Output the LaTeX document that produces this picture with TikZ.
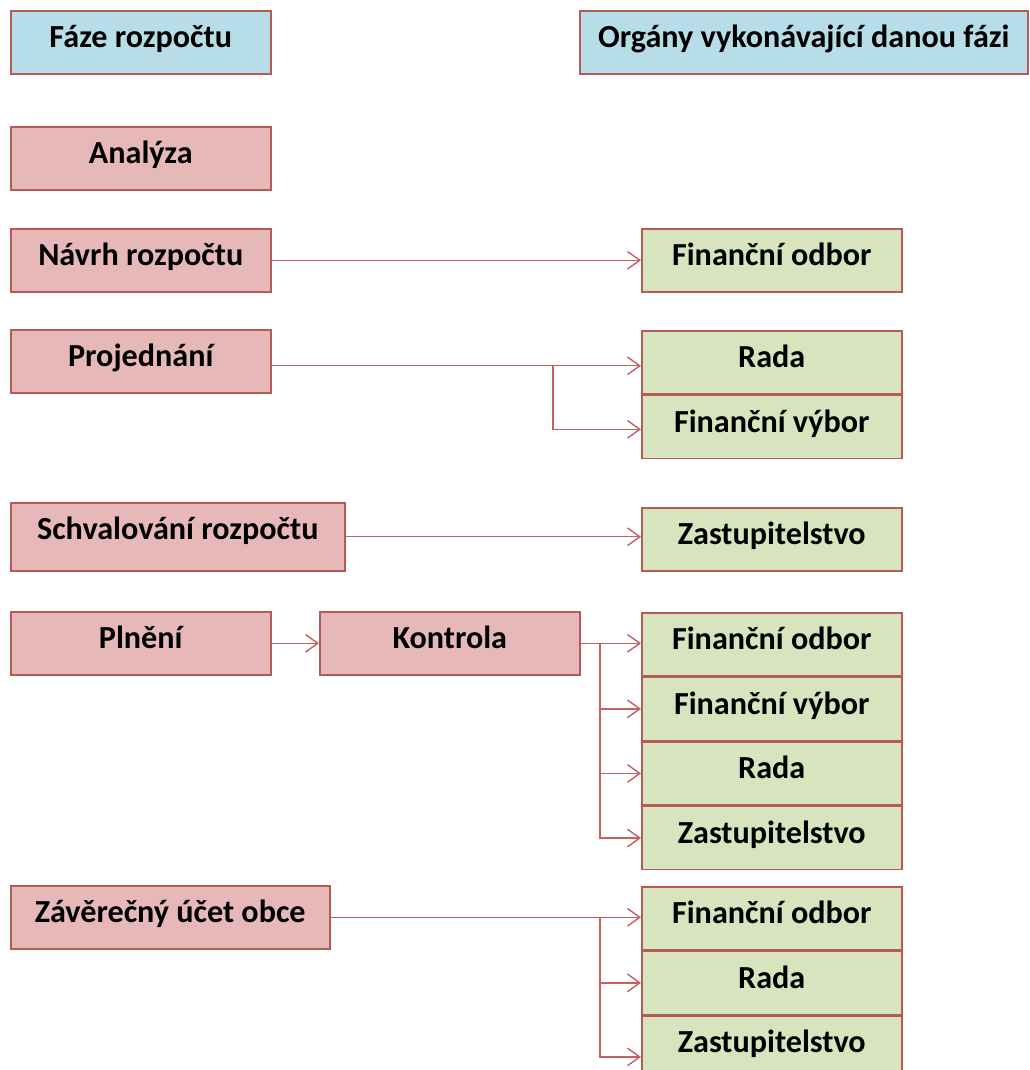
\documentclass[tikz,border=0pt]{standalone}
\usepackage{fontspec}
\setmainfont{Carlito}
\usetikzlibrary{positioning,arrows.meta}
\definecolor{boxline}{HTML}{B65A58}
\definecolor{linkred}{HTML}{C86060}
\definecolor{hdrblue}{HTML}{B7DDE8}
\definecolor{fazepink}{HTML}{E6B9B8}
\definecolor{organgreen}{HTML}{D7E4BD}
\begin{document}
\begin{tikzpicture}[x=0.02cm,y=-0.02cm,>={Straight Barb[length=7pt,width=10pt]},
    box/.style={draw=boxline,line width=0.9pt,anchor=north west,inner sep=0pt,
      minimum width=5.2cm,text height=0.74cm,text depth=0.52cm,
      font=\fontsize{18.3}{22}\selectfont\bfseries},
    hdr/.style={box,fill=hdrblue},
    faze/.style={box,fill=fazepink},
    organ/.style={box,fill=organgreen},
    link/.style={->,draw=linkred,line width=0.8pt}]
  \useasboundingbox (0,0) rectangle (1029,1070);
  % headers
  \node[hdr] (fazehdr) at (10,10) {Fáze rozpočtu};
  \node[hdr,minimum width=8.96cm] (orghdr) at (579,10) {Orgány vykonávající danou fázi};
  % phases
  \node[faze] (analyza) at (10,126) {Analýza};
  \node[faze] (navrh) at (10,228) {Návrh rozpočtu};
  \node[faze] (projed) at (10,329) {Projednání};
  \node[faze,minimum width=6.68cm,text depth=0.62cm] (schval) at (10,502) {Schvalování rozpočtu};
  \node[faze] (plneni) at (10,611) {Plnění};
  \node[faze] (kontrola) at (319,611) {Kontrola};
  \node[faze,minimum width=6.38cm] (zaver) at (10,885) {Závěrečný účet obce};
  % organs
  \node[organ] (odbor1) at (641,228) {Finanční odbor};
  \node[organ] (rada1) at (641,330) {Rada};
  \node[organ,below=0pt of rada1] (vybor1) {Finanční výbor};
  \node[organ] (zast1) at (641,507) {Zastupitelstvo};
  \node[organ] (odbor2) at (641,612) {Finanční odbor};
  \node[organ,below=0pt of odbor2] (vybor2) {Finanční výbor};
  \node[organ,below=0pt of vybor2] (rada2) {Rada};
  \node[organ,below=0pt of rada2] (zast2) {Zastupitelstvo};
  \node[organ] (odbor3) at (641,886) {Finanční odbor};
  \node[organ,below=0pt of odbor3] (rada3) {Rada};
  \node[organ,below=0pt of rada3] (zast3) {Zastupitelstvo};
  % connectors
  \coordinate (split1) at (553,0);
  \coordinate (split2) at (600,0);
  \draw[link] (navrh) -- (odbor1);
  \draw[link] ([yshift=-0.09cm]projed.east) -- ([yshift=-0.09cm]projed.east -| rada1.west);
  \draw[link] ([yshift=-0.09cm]split1 |- projed.east) |- ([yshift=-0.05cm]vybor1.west);
  \draw[link] (schval.east) -- (schval.east -| zast1.west);
  \draw[link] (plneni) -- (kontrola);
  \draw[link] (kontrola.east) -- (kontrola.east -| odbor2.west);
  \foreach \n in {vybor2,rada2,zast2}
    \draw[link] (split2 |- kontrola.east) |- (\n.west);
  \draw[link] (zaver.east) -- (zaver.east -| odbor3.west);
  \draw[link] (split2 |- zaver.east) |- (rada3.west);
  \draw[link] (split2 |- zaver.east) |- ([yshift=-0.19cm]zast3.west);
\end{tikzpicture}
\end{document}
